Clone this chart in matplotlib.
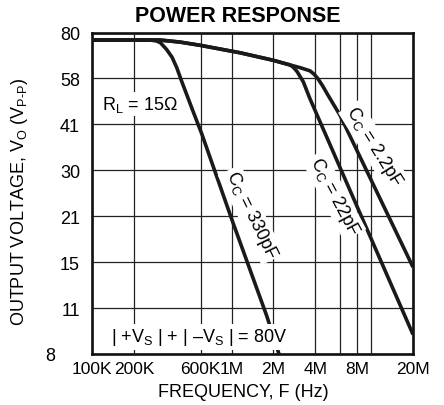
import numpy as np
import matplotlib
matplotlib.use("Agg")
import matplotlib.pyplot as plt
from matplotlib.ticker import FixedLocator, NullFormatter

plt.rcParams["font.family"] = ["Liberation Sans", "DejaVu Sans"]
plt.rcParams["mathtext.fontset"] = "custom"
plt.rcParams["mathtext.rm"] = "Liberation Sans"
plt.rcParams["mathtext.it"] = "Liberation Sans:italic"
plt.rcParams["mathtext.bf"] = "Liberation Sans:bold"

# curves: frequency (Hz) vs output voltage (Vp-p)
freq_330p = [1e5, 2.6e5, 2.9e5, 3.1e5, 3.43e5, 3.75e5, 4.05e5, 4.4e5,
             5.32e5, 6.11e5, 1.0e6, 1.79e6, 2.19e6]
volt_330p = [75.8, 75.8, 75.3, 74.3, 70.8, 67.0, 62.2, 56.3,
             45.3, 38.8, 21.1, 10.5, 8.0]

freq_22p = [1e5, 3.07e5, 4.27e5, 5.95e5, 1.15e6, 1.98e6, 2.63e6, 2.77e6,
            2.95e6, 3.27e6, 3.65e6, 2e7]
volt_22p = [75.8, 75.8, 74.7, 73.0, 69.2, 65.6, 63.4, 62.4,
            60.5, 56.2, 49.8, 9.2]

freq_2p2 = [1e5, 3.07e5, 4.27e5, 5.95e5, 1.15e6, 1.98e6, 2.63e6, 3.1e6,
            3.65e6, 3.9e6, 4.15e6, 4.5e6, 4.9e6, 6.0e6, 2e7]
volt_2p2 = [75.8, 75.8, 74.7, 73.0, 69.2, 65.6, 63.4, 62.2,
            60.8, 59.4, 57.6, 54.6, 51.2, 44.2, 14.9]

x_ticks = [1e5, 2e5, 6e5, 1e6, 2e6, 4e6, 8e6, 2e7]
x_tick_labels = ["100K", "200K", "600K", "1M", "2M", "4M", "8M", "20M"]
x_grid = [2e5, 6e5, 1e6, 2e6, 4e6, 6e6, 8e6, 1e7]
y_tick_labels = ["8", "11", "15", "21", "30", "41", "58", "80"]

W, H = 444, 406
fig = plt.figure(figsize=(W / 100, H / 100), dpi=100)
ax = fig.add_axes([92 / W, 1 - 355 / H, 321 / W, 321.5 / H])
ax.set_xscale("log")
ax.set_yscale("log")
ax.set_xlim(1e5, 2e7)
ax.set_ylim(8, 80)

y_pos = np.geomspace(8, 80, len(y_tick_labels))
ax.xaxis.set_major_locator(FixedLocator(x_ticks))
ax.set_xticklabels(x_tick_labels)
ax.xaxis.set_minor_locator(FixedLocator(x_grid))
ax.xaxis.set_minor_formatter(NullFormatter())
ax.yaxis.set_major_locator(FixedLocator(y_pos))
ax.set_yticklabels(y_tick_labels)
ax.yaxis.set_minor_locator(FixedLocator([]))
ax.tick_params(which="both", length=0)
ax.tick_params(axis="y", pad=8.6, labelsize=13)
ax.tick_params(axis="x", pad=5.2, labelsize=12.5)
# the bottom "8" sits further left to clear the 100K label
ax.yaxis.get_major_ticks()[0].label1.set_x(-25 / 321)

ax.grid(which="both", axis="x", color="#222222", lw=0.9)
ax.grid(which="major", axis="y", color="#222222", lw=0.9)
ax.set_axisbelow(True)
for s in ax.spines.values():
    s.set_linewidth(1.9)
    s.set_color("#111111")

kw = dict(color="#1a1a1a", lw=2.6, solid_capstyle="butt", zorder=3)
ax.plot(freq_330p, volt_330p, **kw)
ax.plot(freq_22p, volt_22p, **kw)
ax.plot(freq_2p2, volt_2p2, **kw)

box = dict(facecolor="white", edgecolor="none", pad=1.5)
ax.text(1.17e5, 48.0, r"R$_\mathrm{L}$ = 15Ω", fontsize=13, ha="left",
        va="center", bbox=box, zorder=5)
ax.text(1.37e5, 9.04, r"| +V$_\mathrm{S}$ | + | –V$_\mathrm{S}$ | = 80V",
        fontsize=13, ha="left", va="center", bbox=box, zorder=5)
ax.text(1.38e6, 21.7, r"C$_\mathrm{C}$ = 330pF", fontsize=13, rotation=-64,
        ha="center", va="center", rotation_mode="anchor", bbox=box, zorder=5)
ax.text(5.43e6, 24.9, r"C$_\mathrm{C}$ = 22pF", fontsize=13, rotation=-62,
        ha="center", va="center", rotation_mode="anchor", bbox=box, zorder=5)
ax.text(1.05e7, 35.4, r"C$_\mathrm{C}$ = 2.2pF", fontsize=13, rotation=-58,
        ha="center", va="center", rotation_mode="anchor", bbox=box, zorder=5)

fig.text(237.5 / W, 1 - 17 / H, "POWER RESPONSE", fontsize=15.5,
         fontweight="bold", ha="center", va="center")
fig.text(243 / W, 1 - 393 / H, "FREQUENCY, F (Hz)", fontsize=13,
         ha="center", va="center")
fig.text(20 / W, 1 - 202 / H,
         r"OUTPUT VOLTAGE, V$_\mathrm{O}$ (V$_\mathrm{P\text{-}P}$)",
         fontsize=13, rotation=90, ha="center", va="center")

fig.savefig("out.png", dpi=100)
